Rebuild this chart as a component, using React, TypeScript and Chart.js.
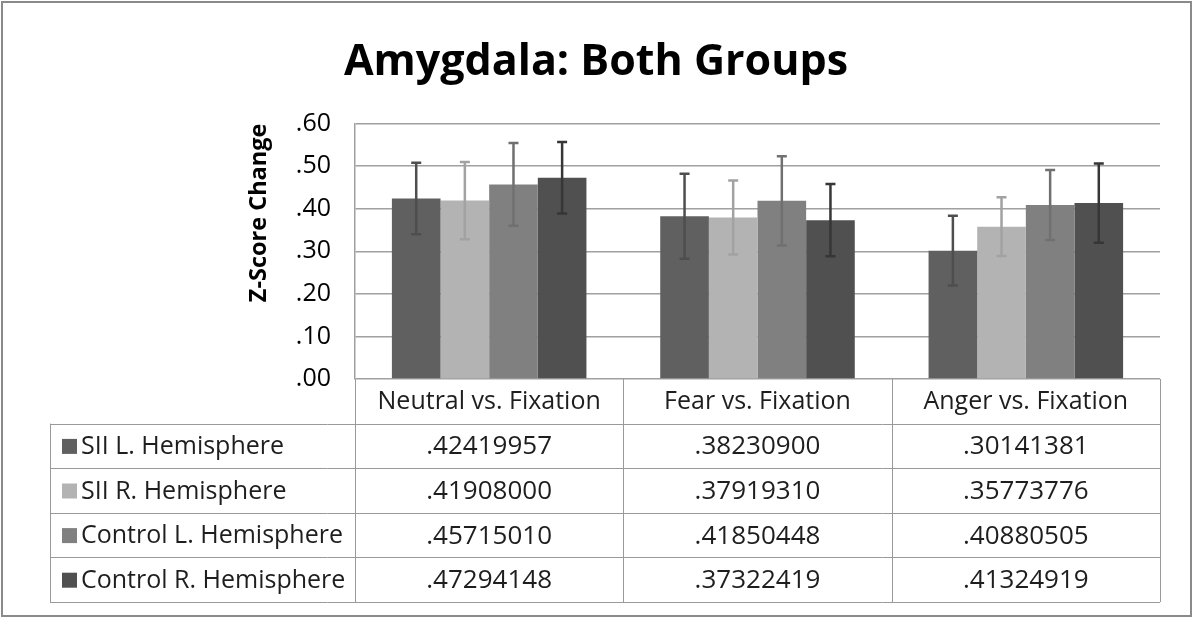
import React, { useEffect, useRef } from "react";
import { Chart, registerables } from "chart.js";

Chart.register(...registerables);

const TITLE = "Amygdala: Both Groups";
const Y_TITLE = "Z-Score Change";
const CATEGORIES = ["Neutral vs. Fixation", "Fear vs. Fixation", "Anger vs. Fixation"];
const SERIES_NAMES = ["SII L. Hemisphere", "SII R. Hemisphere", "Control L. Hemisphere", "Control R. Hemisphere"];
const SII_L = [0.42419957, 0.382309, 0.30141381];
const SII_R = [0.41908, 0.3791931, 0.35773776];
const CTRL_L = [0.4571501, 0.41850448, 0.40880505];
const CTRL_R = [0.47294148, 0.37322419, 0.41324919];
const SII_L_LABELS = [".42419957", ".38230900", ".30141381"];
const SII_R_LABELS = [".41908000", ".37919310", ".35773776"];
const CTRL_L_LABELS = [".45715010", ".41850448", ".40880505"];
const CTRL_R_LABELS = [".47294148", ".37322419", ".41324919"];
// error bar half-lengths
const SII_L_ERR = [0.084, 0.1, 0.082];
const SII_R_ERR = [0.091, 0.087, 0.069];
const CTRL_L_ERR = [0.097, 0.105, 0.082];
const CTRL_R_ERR = [0.084, 0.085, 0.093];

const BAR_COLORS = ["#606060", "#b3b3b3", "#808080", "#505050"];
const ERR_COLORS = ["#4e4e4e", "#a2a2a2", "#707070", "#363636"];
const FONT = "'Open Sans', Lato, sans-serif";

const SERIES_VALUES = [SII_L, SII_R, CTRL_L, CTRL_R];
const SERIES_LABELS = [SII_L_LABELS, SII_R_LABELS, CTRL_L_LABELS, CTRL_R_LABELS];
const SERIES_ERR = [SII_L_ERR, SII_R_ERR, CTRL_L_ERR, CTRL_R_ERR];

const ROW_H = 44.6;
const TABLE_LEFT = 50;

const errorBarPlugin = {
  id: "errorBars",
  afterDatasetsDraw(chart: any) {
    const ctx = chart.ctx;
    const y = chart.scales.y;
    chart.data.datasets.forEach((ds: any, di: number) => {
      const meta = chart.getDatasetMeta(di);
      meta.data.forEach((bar: any, i: number) => {
        const v = ds.data[i];
        const e = SERIES_ERR[di][i];
        const yt = y.getPixelForValue(v + e);
        const yb = y.getPixelForValue(v - e);
        ctx.save();
        ctx.strokeStyle = ERR_COLORS[di];
        ctx.lineWidth = 2.5;
        ctx.beginPath();
        ctx.moveTo(bar.x, yt);
        ctx.lineTo(bar.x, yb);
        ctx.moveTo(bar.x - 5, yt);
        ctx.lineTo(bar.x + 5, yt);
        ctx.moveTo(bar.x - 5, yb);
        ctx.lineTo(bar.x + 5, yb);
        ctx.stroke();
        ctx.restore();
      });
    });
  },
};

const tablePlugin = {
  id: "dataTable",
  afterDraw(chart: any) {
    const ctx = chart.ctx;
    const area = chart.chartArea;
    const x = chart.scales.x;
    const n = CATEGORIES.length;
    const colW = (area.right - area.left) / n;
    const top = area.bottom;
    const bottom = top + ROW_H * (SERIES_NAMES.length + 1);
    ctx.save();
    ctx.strokeStyle = "#9a9a9a";
    ctx.lineWidth = 1;
    ctx.beginPath();
    for (let i = 0; i <= n; i++) {
      const px = Math.round(area.left + colW * i) + 0.5;
      ctx.moveTo(px, top);
      ctx.lineTo(px, bottom);
    }
    ctx.moveTo(TABLE_LEFT + 0.5, top + ROW_H);
    ctx.lineTo(TABLE_LEFT + 0.5, bottom);
    for (let r = 1; r <= SERIES_NAMES.length + 1; r++) {
      const py = Math.round(top + ROW_H * r) + 0.5;
      ctx.moveTo(TABLE_LEFT, py);
      ctx.lineTo(area.right, py);
    }
    ctx.stroke();

    ctx.fillStyle = "#1e1e1e";
    ctx.textBaseline = "middle";
    ctx.textAlign = "center";
    ctx.font = `25px ${FONT}`;
    CATEGORIES.forEach((c, i) => {
      ctx.fillText(c, x.getPixelForValue(i), top + ROW_H / 2 + 1);
    });
    SERIES_NAMES.forEach((name, r) => {
      const cy = top + ROW_H * (r + 1) + ROW_H / 2 + 1;
      ctx.fillStyle = BAR_COLORS[r];
      ctx.fillRect(TABLE_LEFT + 12, cy - 8, 15, 15);
      ctx.fillStyle = "#1e1e1e";
      ctx.font = `25px ${FONT}`;
      ctx.textAlign = "left";
      ctx.fillText(name, TABLE_LEFT + 31, cy);
      ctx.textAlign = "center";
      ctx.font = `26px ${FONT}`;
      SERIES_LABELS[r].forEach((lab, i) => {
        ctx.fillText(lab, x.getPixelForValue(i), cy);
      });
    });

    ctx.strokeStyle = "#8a8a8a";
    ctx.lineWidth = 2;
    ctx.strokeRect(2, 2, chart.width - 3, chart.height - 3);
    ctx.restore();
  },
};

export default function App() {
  const ref = useRef<HTMLCanvasElement>(null);
  useEffect(() => {
    document.body.style.margin = "0";
    const chart = new Chart(ref.current as HTMLCanvasElement, {
      type: "bar",
      data: {
        labels: CATEGORIES,
        datasets: SERIES_NAMES.map((name, i) => ({
          label: name,
          data: SERIES_VALUES[i],
          backgroundColor: BAR_COLORS[i],
          borderWidth: 0,
          barPercentage: 1,
          categoryPercentage: 0.725,
        })),
      },
      options: {
        animation: false,
        responsive: false,
        layout: { padding: { left: 0, right: 0, top: 0, bottom: 238 } },
        plugins: {
          legend: { display: false },
          tooltip: { enabled: false },
          title: {
            display: true,
            text: TITLE,
            color: "#000",
            font: { family: FONT, size: 43, weight: "bold" },
            padding: { top: 37, bottom: 35 },
          },
        },
        scales: {
          x: { display: false },
          y: {
            min: 0,
            max: 0.6,
            ticks: {
              stepSize: 0.1,
              padding: 24,
              color: "#000",
              font: { family: FONT, size: 25 },
              callback: (v: any) => Number(v).toFixed(2).replace(/^0/, ""),
            },
            grid: { color: "#a0a0a0", lineWidth: 1.5, drawTicks: false },
            border: { color: "#a0a0a0", width: 1.5 },
            title: {
              display: true,
              text: Y_TITLE,
              align: "end",
              color: "#000",
              font: { family: FONT, size: 23.5, weight: "bold" },
              padding: { top: 245, bottom: 0 },
            },
            afterFit: (s: any) => {
              s.width = 355;
            },
          },
          yRightSpace: {
            position: "right",
            display: true,
            grid: { display: false },
            border: { display: false },
            ticks: { display: false },
            afterFit: (s: any) => {
              s.width = 32;
            },
          },
        },
      },
      plugins: [errorBarPlugin, tablePlugin],
    } as any);
    return () => chart.destroy();
  }, []);
  return (
    <div style={{ width: 1192, height: 617 }}>
      <canvas ref={ref} width={1192} height={617} />
    </div>
  );
}
